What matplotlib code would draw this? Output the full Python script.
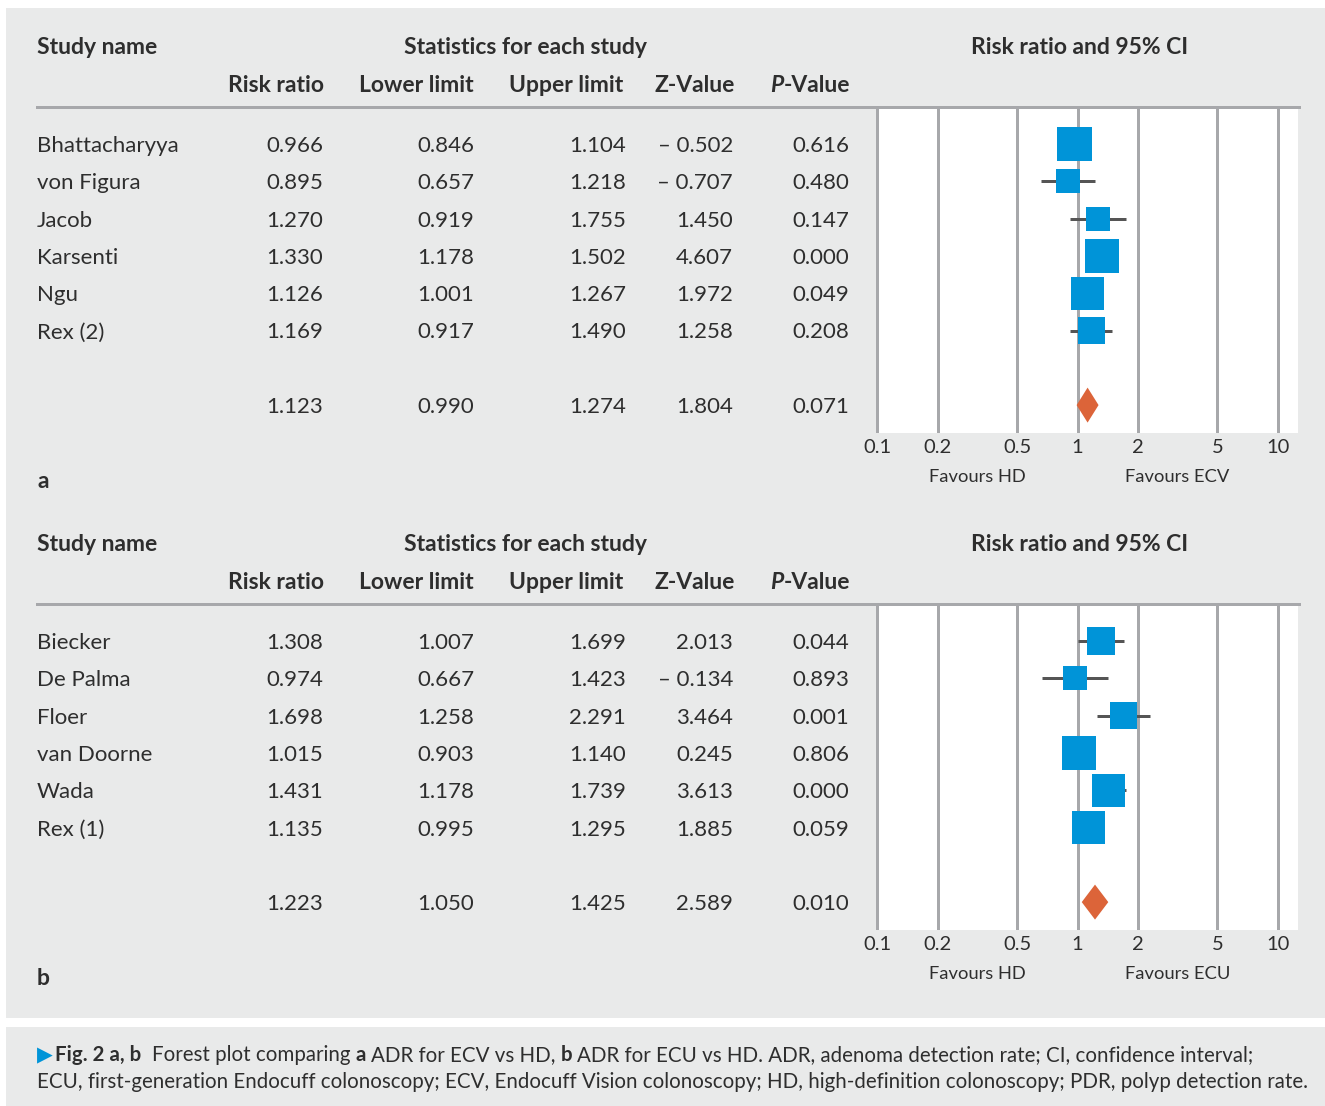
import matplotlib
matplotlib.use("Agg")
import matplotlib.pyplot as plt
import numpy as np
from matplotlib import transforms
from matplotlib.patches import Rectangle, Polygon

plt.rcParams['font.family'] = ['Lato', 'DejaVu Sans']

# ---- data -------------------------------------------------------------
studies_a = ["Bhattacharyya", "von Figura", "Jacob", "Karsenti", "Ngu", "Rex (2)"]
rr_a = [0.966, 0.895, 1.270, 1.330, 1.126, 1.169]
lo_a = [0.846, 0.657, 0.919, 1.178, 1.001, 0.917]
hi_a = [1.104, 1.218, 1.755, 1.502, 1.267, 1.490]
z_a = [-0.502, -0.707, 1.450, 4.607, 1.972, 1.258]
p_a = [0.616, 0.480, 0.147, 0.000, 0.049, 0.208]
weight_a = [21.9, 10.9, 10.9, 21.9, 20.6, 13.8]
pooled_a = [1.123, 0.990, 1.274, 1.804, 0.071]   # rr, lower, upper, z, p

studies_b = ["Biecker", "De Palma", "Floer", "van Doorne", "Wada", "Rex (1)"]
rr_b = [1.308, 0.974, 1.698, 1.015, 1.431, 1.135]
lo_b = [1.007, 0.667, 1.258, 0.903, 1.178, 0.995]
hi_b = [1.699, 1.423, 2.291, 1.140, 1.739, 1.295]
z_b = [2.013, -0.134, 3.464, 0.245, 3.613, 1.885]
p_b = [0.044, 0.893, 0.001, 0.806, 0.000, 0.059]
weight_b = [14.5, 10.6, 13.4, 21.3, 20.1, 20.1]
pooled_b = [1.223, 1.050, 1.425, 2.589, 0.010]

tick_vals = [0.1, 0.2, 0.5, 1, 2, 5, 10]
tick_labels = ["0.1", "0.2", "0.5", "1", "2", "5", "10"]

# ---- styling ----------------------------------------------------------
W, H, DPI = 1325, 1106, 100
BG = "#e9eaea"
TXT = "#2e2e2e"
GRID = "#a7a8ab"
BLUE = "#0094d8"
ORANGE = "#dc6439"
WHISK = "#555555"
FS = 16
FS_HEAD = 16.5
FS_TICK = 14.5
FS_FAV = 13.2
FS_CAP = 14.8
PX = 72.0 / DPI  # points per pixel

fig = plt.figure(figsize=(W / DPI, H / DPI), dpi=DPI, facecolor="white")


def fx(px):
    return px / W


def fy(py):
    return 1 - py / H


# background panels
fig.patches.append(Rectangle((fx(6), fy(1018)), fx(1325) - fx(6), fy(8) - fy(1018),
                             transform=fig.transFigure, facecolor=BG, edgecolor="none", zorder=-10))
fig.patches.append(Rectangle((fx(6), fy(1106)), fx(1325) - fx(6), fy(1027) - fy(1106),
                             transform=fig.transFigure, facecolor=BG, edgecolor="none", zorder=-10))

renderer = fig.canvas.get_renderer()


def text_width(t):
    return t.get_window_extent(renderer=renderer).width


def fmt(v):
    return f"– {abs(v):.3f}" if v < 0 else f"{v:.3f}"


ROW_PX = 37.3
col_right = [323, 474, 626, 733, 849]
head_right = [324, 474, 623, 735, 850]


def panel(top, names, rr, lo, hi, z, p, wts, pooled, right_label, letter):
    # plot region
    ax_left, ax_right = 876, 1298
    ax_top, ax_bot = top + 2, top + 326
    row0 = top + 37
    ax = fig.add_axes([fx(ax_left), fy(ax_bot), fx(ax_right) - fx(ax_left), fy(ax_top) - fy(ax_bot)])
    ax.set_zorder(5)
    ax.set_facecolor("white")
    ax.set_xscale("log")
    ppd = 200.2  # pixels per decade
    ax.set_xlim(0.1 * 10 ** (-1.3 / ppd), 0.1 * 10 ** ((ax_right - ax_left - 1.3) / ppd))
    ax.set_ylim((ax_bot - row0) / ROW_PX, -(row0 - ax_top) / ROW_PX)
    for s in ax.spines.values():
        s.set_visible(False)
    for v in tick_vals:
        ax.axvline(v, color=GRID, lw=3 * PX, zorder=1)
    ax.set_xticks(tick_vals, tick_labels)
    ax.xaxis.set_minor_locator(matplotlib.ticker.NullLocator())
    ax.tick_params(axis="x", length=0, pad=4.5, labelsize=FS_TICK, labelcolor=TXT)
    ax.set_yticks([])

    ys = np.arange(len(names))
    ax.hlines(ys, lo, hi, color=WHISK, lw=3 * PX, zorder=2)
    side_px = 7.3 * np.sqrt(np.array(wts))
    ax.scatter(rr, ys, marker="s", s=(side_px * PX) ** 2, color=BLUE, linewidths=0, zorder=3)

    ysum = len(names) + 1
    half = 17.5 / ROW_PX
    ax.add_patch(Polygon([(pooled[1], ysum), (pooled[0], ysum - half),
                          (pooled[2], ysum), (pooled[0], ysum + half)],
                         closed=True, facecolor=ORANGE, edgecolor="none", zorder=3))

    # favours labels
    tb = transforms.blended_transform_factory(ax.transData, fig.transFigure)
    ax.text(10 ** -0.5, fy(top + 370), "Favours HD", transform=tb, ha="center", va="center",
            fontsize=FS_FAV, color=TXT, clip_on=False)
    ax.text(10 ** 0.5, fy(top + 370), right_label, transform=tb, ha="center", va="center",
            fontsize=FS_FAV, color=TXT, clip_on=False)

    # table rows aligned with the plot rows
    base = transforms.blended_transform_factory(fig.transFigure, ax.transData)
    tr = base + transforms.ScaledTranslation(0, -8.0 / DPI, fig.dpi_scale_trans)
    for i, name in enumerate(names):
        fig.text(fx(37), i, name, transform=tr, ha="left", va="baseline", fontsize=FS, color=TXT)
        vals = [fmt(rr[i]), fmt(lo[i]), fmt(hi[i]), fmt(z[i]), fmt(p[i])]
        for xr, s in zip(col_right, vals):
            fig.text(fx(xr), i, s, transform=tr, ha="right", va="baseline", fontsize=FS, color=TXT)
    for xr, v in zip(col_right, pooled):
        fig.text(fx(xr), ysum, fmt(v), transform=tr, ha="right", va="baseline", fontsize=FS, color=TXT)

    # headers
    hy1 = fy(top - 61 + 8)
    hy2 = fy(top - 23 + 8)
    fig.text(fx(37), hy1, "Study name", ha="left", va="baseline", fontsize=FS_HEAD, fontweight="bold", color=TXT)
    fig.text(fx(525), hy1, "Statistics for each study", ha="center", va="baseline", fontsize=FS_HEAD,
             fontweight="bold", color=TXT)
    fig.text(fx(1080), hy1, "Risk ratio and 95% CI", ha="center", va="baseline", fontsize=FS_HEAD,
             fontweight="bold", color=TXT)
    heads = ["Risk ratio", "Lower limit", "Upper limit", "Z-Value"]
    for xr, h in zip(head_right, heads):
        fig.text(fx(xr), hy2, h, ha="right", va="baseline", fontsize=FS_HEAD, fontweight="bold", color=TXT)
    t = fig.text(fx(head_right[4]), hy2, "-Value", ha="right", va="baseline", fontsize=FS_HEAD,
                 fontweight="bold", color=TXT)
    wv = text_width(t)
    fig.text(fx(head_right[4] - wv), hy2, "P", ha="right", va="baseline", fontsize=FS_HEAD,
             fontweight="bold", style="italic", color=TXT)

    # rule under headers
    fig.add_artist(plt.Line2D([fx(37), fx(1299)], [fy(top), fy(top)], transform=fig.transFigure,
                              color=GRID, lw=3 * PX))
    fig.text(fx(37), fy(top + 381), letter, ha="left", va="baseline", fontsize=FS_HEAD,
             fontweight="bold", color=TXT)
    return ax


panel(107, studies_a, rr_a, lo_a, hi_a, z_a, p_a, weight_a, pooled_a, "Favours ECV", "a")
panel(604, studies_b, rr_b, lo_b, hi_b, z_b, p_b, weight_b, pooled_b, "Favours ECU", "b")


# caption with mixed weights
def runs(x, y, parts, fs=FS_CAP):
    for s, bold, gap, color in parts:
        t = fig.text(fx(x), fy(y), s, ha="left", va="baseline", fontsize=fs,
                     fontweight="bold" if bold else "normal", color=color)
        x += text_width(t) + gap


sp = 5
runs(37, 1061, [
    ("▶", False, 2, BLUE),
    ("Fig. 2 a, b", True, 11, TXT),
    ("Forest plot comparing", False, sp, TXT),
    ("a", True, sp, TXT),
    ("ADR for ECV vs HD,", False, sp, TXT),
    ("b", True, sp, TXT),
    ("ADR for ECU vs HD. ADR, adenoma detection rate; CI, confidence interval;", False, 0, TXT),
])
runs(37, 1088, [
    ("ECU, first-generation Endocuff colonoscopy; ECV, Endocuff Vision colonoscopy; "
     "HD, high-definition colonoscopy; PDR, polyp detection rate.", False, 0, TXT),
])

fig.savefig("out.png", dpi=DPI, facecolor="white")
